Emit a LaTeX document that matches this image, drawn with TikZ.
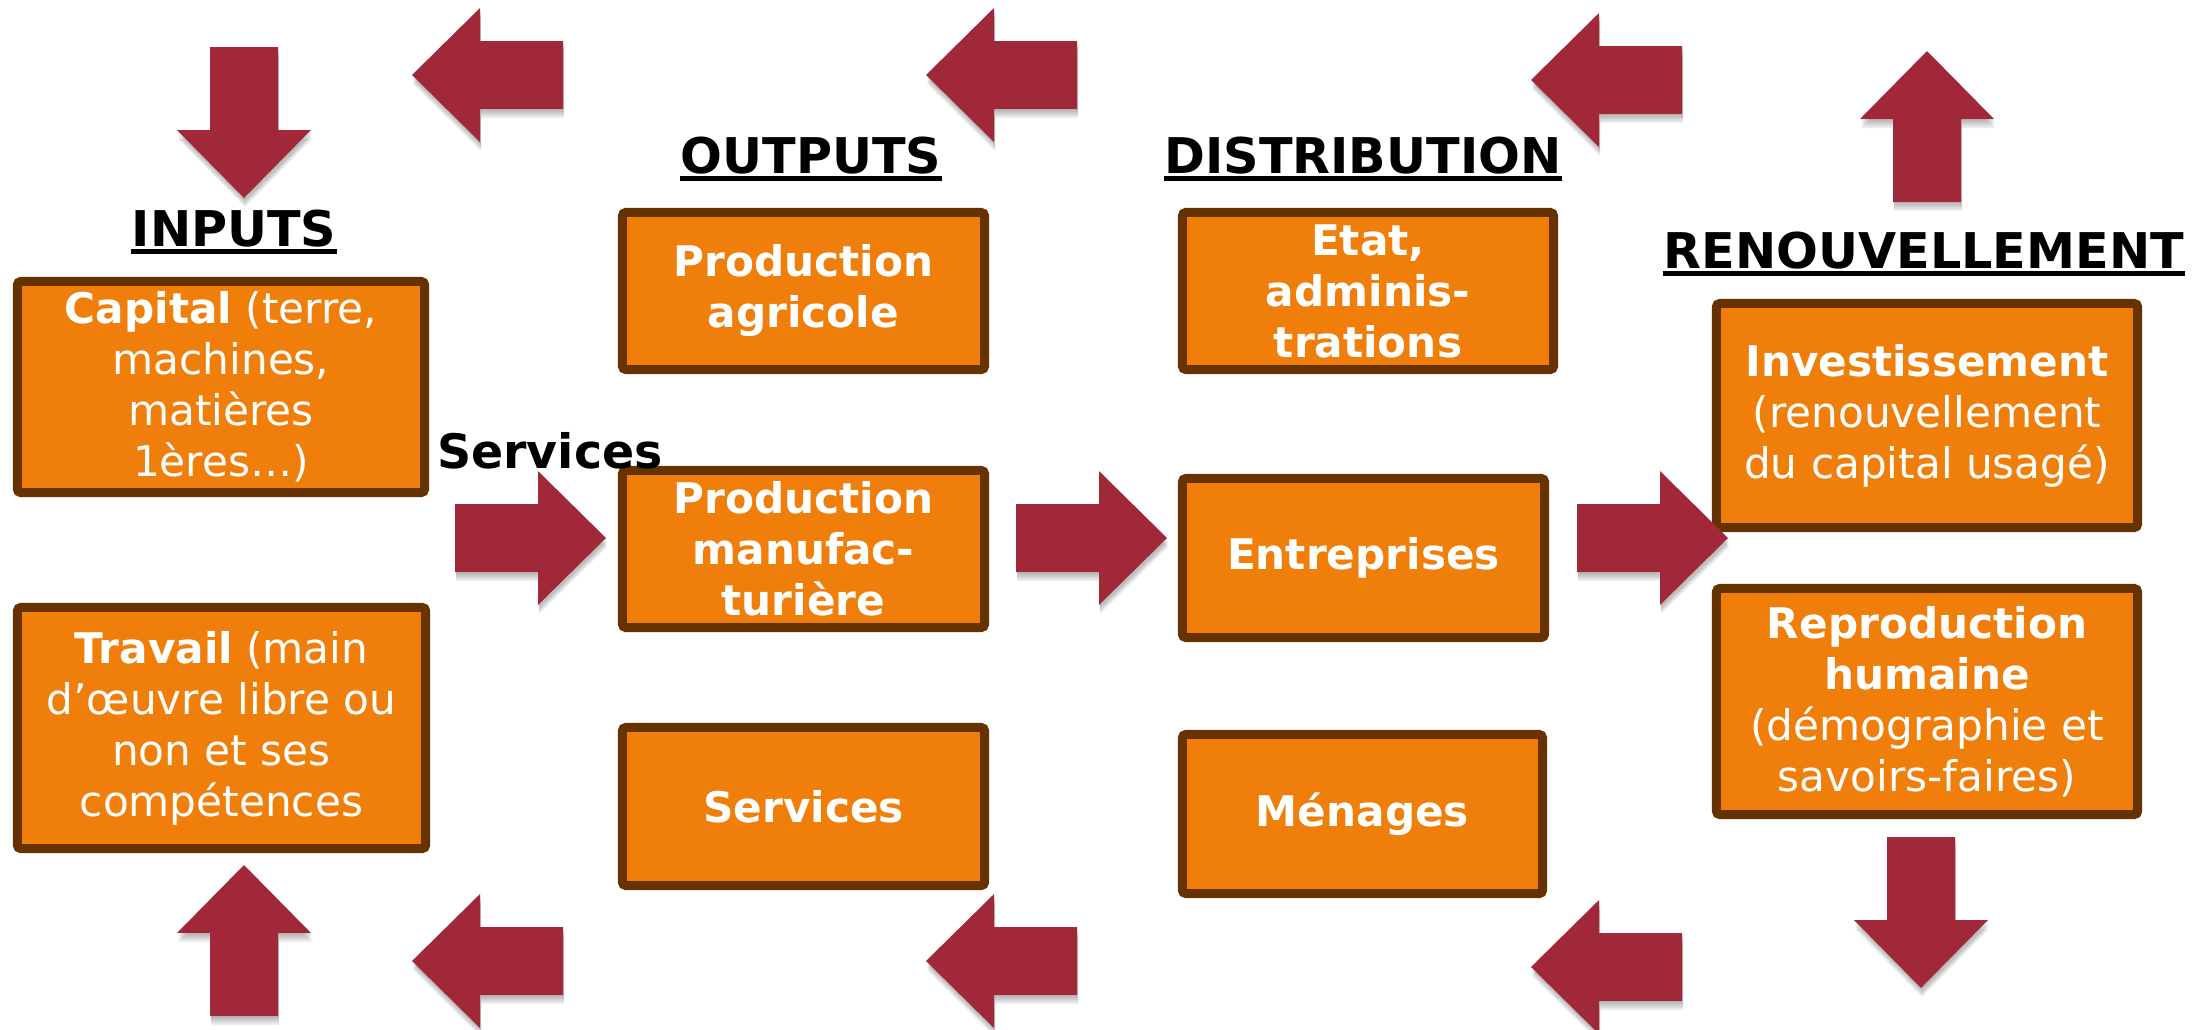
\documentclass[tikz,border=0pt]{standalone}
\usepackage{fontspec}
\setmainfont{DejaVu Sans}
\definecolor{boxorange}{RGB}{239,127,10}
\definecolor{boxbrown}{RGB}{102,51,0}
\definecolor{arrowred}{RGB}{161,40,57}

\begin{document}
\begin{tikzpicture}[x=0.01cm,y=-0.01cm,
	main_box/.style={rectangle,rounded corners=1pt,fill=boxorange,draw=boxbrown,line width=0.09cm,text=white,align=center,inner sep=0pt,font=\fontsize{12}{14.5}\selectfont},
	bold_box/.style={main_box,font=\fontsize{12}{14.5}\selectfont\bfseries},
	head_text/.style={anchor=base,inner sep=0pt,font=\fontsize{14}{17}\selectfont\bfseries},
	head_line/.style={line width=0.05cm},
	arrow_body/.style={fill=arrowred},
	arrow_shade/.style={fill=black,opacity=0.07}]
	\useasboundingbox (0,0) rectangle (2202,1029);

	% inputs
	\node[main_box,minimum width=4.07cm,minimum height=2.11cm] (capital) at (221,387) {\textbf{Capital} (terre,\\machines,\\matières\\1ères…)};
	\node[main_box,minimum width=4.08cm,minimum height=2.41cm] (travail) at (221.5,728) {\textbf{Travail} (main\\d’œuvre libre ou\\non et ses\\compétences};
	% outputs
	\node[bold_box,minimum width=3.62cm,minimum height=1.57cm] (agricole) at (803.5,291) {Production\\agricole};
	\node[bold_box,minimum width=3.62cm,minimum height=1.57cm] (manuf) at (803.5,549) {Production\\manufac-\\turière};
	\node[bold_box,minimum width=3.62cm,minimum height=1.58cm] (services) at (803.5,806.5) {Services};
	% distribution
	\node[bold_box,minimum width=3.71cm,minimum height=1.57cm] (etat) at (1368,291) {Etat,\\adminis-\\trations};
	\node[bold_box,minimum width=3.62cm,minimum height=1.59cm] (entreprises) at (1363.5,558) {Entreprises};
	\node[bold_box,minimum width=3.60cm,minimum height=1.59cm] (menages) at (1362.5,814) {Ménages};
	% renouvellement
	\node[main_box,minimum width=4.21cm,minimum height=2.24cm] (invest) at (1927,415.5) {\textbf{Investissement}\\(renouvellement\\du capital usagé)};
	\node[main_box,minimum width=4.21cm,minimum height=2.26cm] (repro) at (1927,701.5) {\textbf{Reproduction}\\\textbf{humaine}\\(démographie et\\savoirs-faires)};

	\node[head_text] (inputs) at (234,246) {INPUTS};
	\node[head_text] (outputs) at (811,173) {OUTPUTS};
	\node[head_text] (distrib) at (1363,173) {DISTRIBUTION};
	\node[head_text] (renouv) at (1924,268) {RENOUVELLEMENT};
	\foreach \h in {inputs,outputs,distrib,renouv}
		\draw[head_line] ([yshift=-0.05cm]\h.base west) -- ([yshift=-0.05cm]\h.base east);

	\node[anchor=base,inner sep=0pt,font=\fontsize{13.5}{16}\selectfont\bfseries] (serv_label) at (550,468) {Services};

	% big arrows: tail x / tail y / direction
	\foreach \x/\y/\r in {244/47/-90, 563/75/180, 1077/75/180, 1682/80/180, 1927/202/90,
		455/538/0, 1016/538/0, 1577/538/0,
		244/1016/90, 563/961/180, 1077/961/180, 1682/967/180, 1921/837/-90}{
		\foreach \s in {3,5,7,9}
			\fill[arrow_shade,shift={(\x+1,\y+\s)},rotate=\r] (0,-34) -- (83,-34) -- (83,-67) -- (151,0) -- (83,67) -- (83,34) -- (0,34) -- cycle;
		\fill[arrow_body,shift={(\x,\y)},rotate=\r] (0,-34) -- (83,-34) -- (83,-67) -- (151,0) -- (83,67) -- (83,34) -- (0,34) -- cycle;
	}
\end{tikzpicture}
\end{document}
